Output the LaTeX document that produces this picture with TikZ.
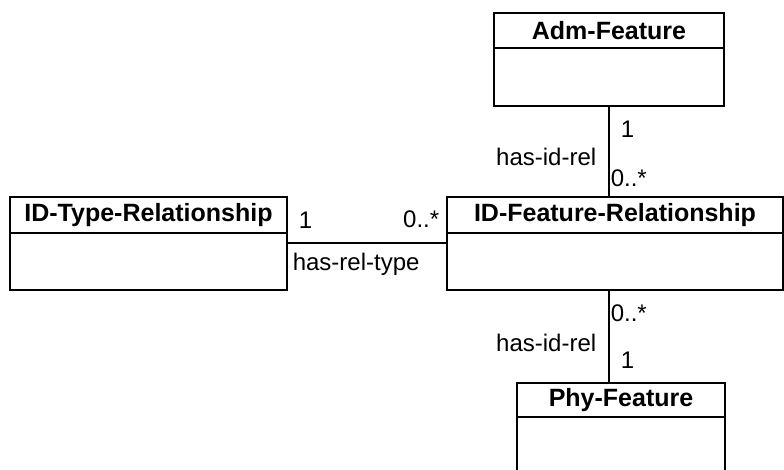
\documentclass[tikz,border=0pt]{standalone}
\usepackage{fontspec}
\setmainfont{Liberation Sans}
\usetikzlibrary{positioning}
\tikzset{
x=1pt, y=-1pt, % pixel-like units, y grows downwards
class/.style={draw, line width=1.6pt, inner sep=0pt, outer sep=0pt, font=\bfseries\fontsize{25}{27}\selectfont}, % title part of a class
classbody/.style={draw, line width=1.6pt, inner sep=0pt, outer sep=0pt}, % empty part under the title
assoc/.style={line width=1.6pt}, % association line
mult/.style={inner sep=1pt, font=\fontsize{24}{26}\selectfont}, % multiplicities and role names
}

\begin{document}
\begin{tikzpicture}
      \clip (0,0) rectangle (784,470);

      \node[class, minimum width=230pt, minimum height=35pt, anchor=north west] (adm) at (494,13) {Adm-Feature};
      \node[classbody, minimum width=230pt, minimum height=58pt, below=0pt of adm] (adm-b) {};

      \node[class, minimum width=277pt, minimum height=36pt, anchor=north west] (idtype) at (10,197) {ID-Type-Relationship};
      \node[classbody, minimum width=277pt, minimum height=57pt, below=0pt of idtype] (idtype-b) {};

      \node[class, minimum width=336pt, minimum height=36pt, right=160pt of idtype] (idfeat) {ID-Feature-Relationship};
      \node[classbody, minimum width=336pt, minimum height=57pt, below=0pt of idfeat] (idfeat-b) {};

      \node[class, minimum width=208pt, minimum height=34pt, anchor=north west] (phy) at (517,383) {Phy-Feature};
      \node[classbody, minimum width=208pt, minimum height=60pt, below=0pt of phy] (phy-b) {};

      \draw[assoc] ([yshift=-10pt]idtype-b.north east) --
        node[mult, pos=0, anchor=south west, xshift=10pt, yshift=13pt] {1}
        node[mult, pos=1, anchor=south east, xshift=-6pt, yshift=13pt] {0..*}
        node[mult, pos=0, anchor=north west, xshift=4pt, yshift=-8pt] {has-rel-type}
        ([yshift=-10pt]idfeat-b.north west);

      \draw[assoc] (adm-b.south) --
        node[mult, pos=.26, anchor=west, xshift=10pt] {1}
        node[mult, pos=.56, anchor=east, xshift=-11pt] {has-id-rel}
        node[mult, pos=.79, anchor=west] {0..*}
        (adm-b.south |- idfeat.north);

      \draw[assoc] (adm-b.south |- idfeat-b.south) --
        node[mult, pos=.25, anchor=west] {0..*}
        node[mult, pos=.57, anchor=east, xshift=-11pt] {has-id-rel}
        node[mult, pos=.75, anchor=west, xshift=10pt] {1}
        (adm-b.south |- phy.north);
    \end{tikzpicture}
\end{document}
